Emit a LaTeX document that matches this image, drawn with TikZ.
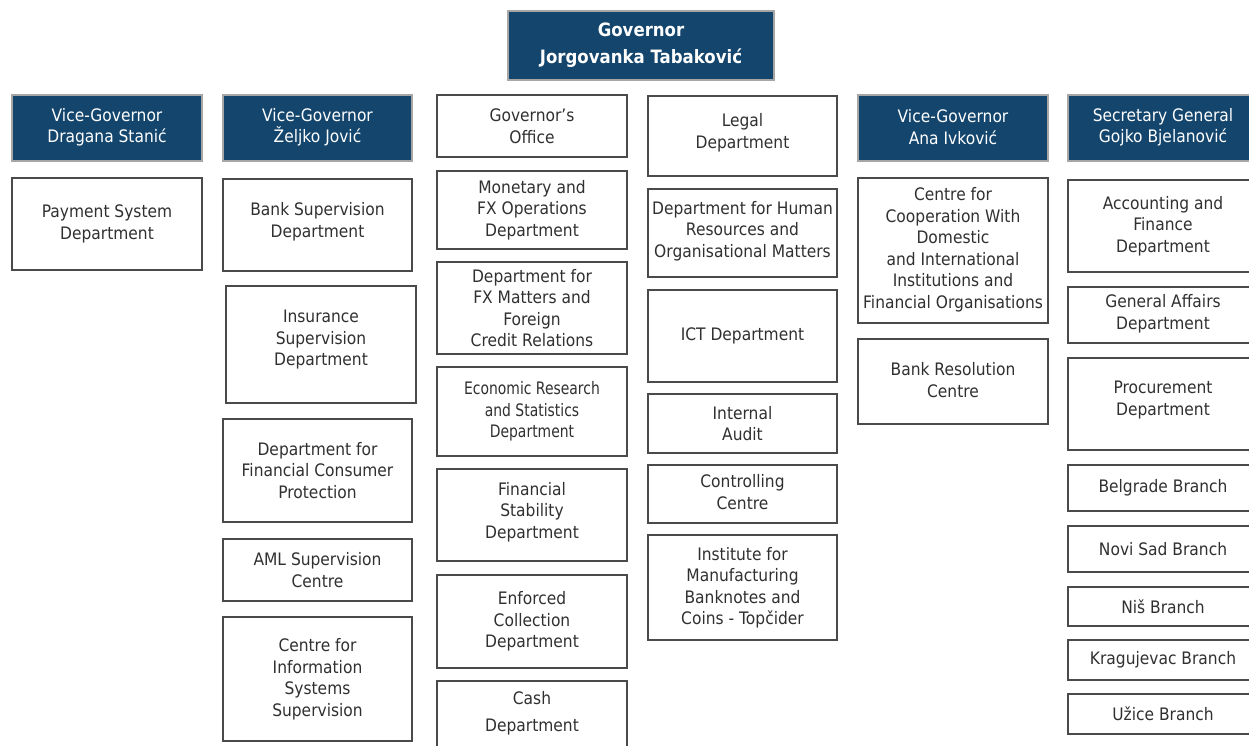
\documentclass[tikz,border=0pt]{standalone}
\usepackage{fontspec}
\setmainfont[FakeStretch=0.9]{DejaVu Sans}
\usepackage{tikz}
\definecolor{nbsblue}{HTML}{13456D}
\definecolor{nbsline}{HTML}{4A4A4A}
\definecolor{nbstext}{HTML}{303030}
% box from its edges: [text lift], name, style, left, top, right, bottom, text
\newcommand{\orgbox}[8][0]{%
  \node[#3, minimum width={(#6-#4)*1pt}, minimum height={(#7-#5)*1pt}]
    (#2) at ({(#4+#6)/2},{(#5+#7)/2}) {};
  \node[#3, draw=none, fill=none, minimum width=0pt, minimum height=0pt]
    (#2-t) at ([yshift=#1pt] #2.center) {#8};}

\begin{document}
\begin{tikzpicture}[x=1pt, y=-1pt,
  unit/.style={draw=nbsline, line width=1.1pt, fill=white, text=nbstext,
    align=center, inner sep=0pt, font=\fontsize{17.2}{21.5}\selectfont},
  head/.style={unit, draw=gray!70, fill=nbsblue, text=white},
  chief/.style={head, font=\bfseries\fontsize{18.4}{27}\selectfont}]

  \useasboundingbox (0,0) rectangle (1249,745);

  % Governor
  \orgbox{gov}{chief}{508}{11}{774}{80}{Governor\\Jorgovanka Tabaković}

  % Heads of sectors
  \orgbox[1]{vgA}{head}{12}{95}{202}{161}{Vice-Governor\\Dragana Stanić}
  \orgbox[1]{vgB}{head}{223}{95}{412}{161}{Vice-Governor\\Željko Jović}
  \orgbox[1]{vgC}{head}{858}{95}{1048}{161}{Vice-Governor\\Ana Ivković}
  \orgbox[1]{secgen}{head}{1068}{95}{1258}{161}{Secretary General\\Gojko Bjelanović}

  % Dragana Stanić
  \orgbox{pay}{unit}{12}{178}{202}{270}{Payment System\\Department}

  % Željko Jović
  \orgbox[3.5]{banksup}{unit}{223}{179}{412}{271}{Bank Supervision\\Department}
  \orgbox[4.5]{inssup}{unit}{226}{286}{416}{403}{Insurance\\Supervision\\Department}
  \orgbox{consumer}{unit}{223}{419}{412}{522}{Department for\\Financial Consumer\\Protection}
  \orgbox{aml}{unit}{223}{539}{412}{601}{AML Supervision\\Centre}
  \orgbox{infosys}{unit}{223}{617}{412}{741}{Centre for\\Information\\Systems\\Supervision}

  % Governor's own units, first column
  \orgbox{office}{unit}{437}{95}{627}{157}{Governor’s\\Office}
  \orgbox{monetary}{unit}{437}{171}{627}{249}{Monetary and\\FX Operations\\Department}
  \orgbox{fxmatters}{unit}{437}{262}{627}{354}{Department for\\FX Matters and\\Foreign\\Credit Relations}
  \orgbox{research}{unit}{437}{367}{627}{456}{\scalebox{0.9}[1]{Economic Research}\\\scalebox{0.9}[1]{and Statistics}\\\scalebox{0.9}[1]{Department}}
  \orgbox[3]{stability}{unit}{437}{469}{627}{561}{Financial\\Stability\\Department}
  \orgbox{enforced}{unit}{437}{575}{627}{668}{Enforced\\Collection\\Department}
  \orgbox[15]{cash}{unit}{437}{681}{627}{775}{Cash\\[6pt]Department}

  % Governor's own units, second column
  \orgbox[3]{legal}{unit}{648}{96}{837}{176}{Legal\\Department}
  \orgbox[2]{hr}{unit}{648}{189}{837}{277}{Department for Human\\Resources and\\Organisational Matters}
  \orgbox{ict}{unit}{648}{290}{837}{382}{ICT Department}
  \orgbox{audit}{unit}{648}{394}{837}{453}{Internal\\Audit}
  \orgbox[2]{controlling}{unit}{648}{465}{837}{523}{Controlling\\Centre}
  \orgbox{institute}{unit}{648}{535}{837}{640}{Institute for\\Manufacturing\\Banknotes and\\Coins - Topčider}

  % Ana Ivković
  \orgbox[1]{coop}{unit}{858}{178}{1048}{323}{Centre for\\Cooperation With\\Domestic\\and International\\Institutions and\\Financial Organisations}
  \orgbox[1.5]{resolution}{unit}{858}{339}{1048}{424}{Bank Resolution\\Centre}

  % Gojko Bjelanović
  \orgbox{accounting}{unit}{1068}{180}{1258}{272}{Accounting and\\Finance\\Department}
  \orgbox[1.5]{general}{unit}{1068}{287}{1258}{343}{General Affairs\\Department}
  \orgbox[4]{procure}{unit}{1068}{358}{1258}{450}{Procurement\\Department}
  \orgbox{belgrade}{unit}{1068}{465}{1258}{511}{Belgrade Branch}
  \orgbox{novisad}{unit}{1068}{526}{1258}{572}{Novi Sad Branch}
  \orgbox{nis}{unit}{1068}{587}{1258}{626}{Niš Branch}
  \orgbox{kragujevac}{unit}{1068}{640}{1258}{680}{Kragujevac Branch}
  \orgbox{uzice}{unit}{1068}{694}{1258}{734}{Užice Branch}

\end{tikzpicture}
\end{document}
